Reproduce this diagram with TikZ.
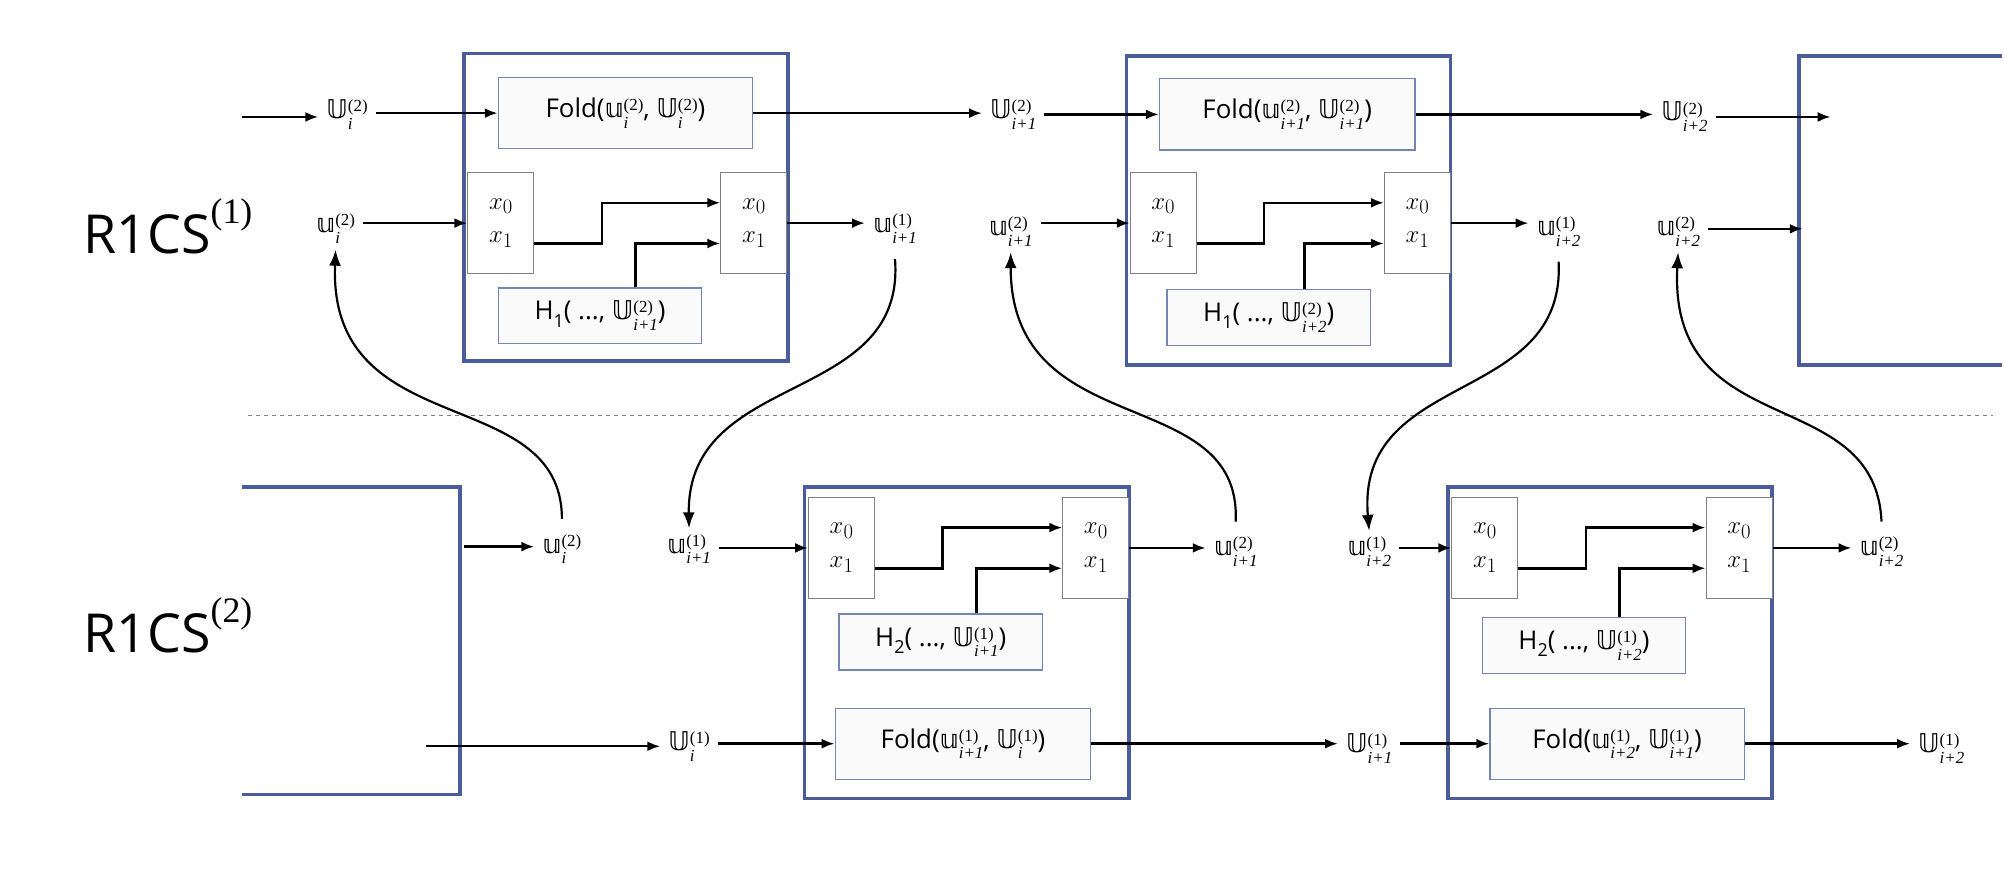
\documentclass[tikz,border=0pt]{standalone}
\usepackage{amsmath}
\usepackage{fontspec}
\setmainfont{Open Sans}
\newfontfamily\djv{DejaVu Sans}
\newfontfamily\scr{Liberation Serif}
\usetikzlibrary{arrows.meta,calc}
\definecolor{bb}{rgb}{0.29,0.36,0.60}
\definecolor{ib}{rgb}{0.45,0.52,0.70}
\newcommand\sst[2]{\raisebox{-0.42em}{\fontsize{17}{22}\selectfont\scr\shortstack[l]{(#2)\\\textit{#1}}}}
\newcommand\bu[2]{{\djv 𝕦}\sst{#1}{#2}}
\newcommand\bU[2]{{\djv 𝕌}\sst{#1}{#2}}
\newcommand\Hs[1]{H\raisebox{-0.3em}{\fontsize{18}{18}\selectfont #1}}
\newcommand\muxpair[4]{% prefix, lx, rx, cy
  \node[xbox] (#1L) at (#2,#4) {$x_0$\\[4pt]$x_1$};
  \node[xbox] (#1R) at (#3,#4) {$x_0$\\[4pt]$x_1$};
  \draw[arr] ($(#1L.east)+(0,16)$) -- ++(53,0) |- ($(#1R.west)+(0,-16)$);
  \draw[arr] ($(#1H.north)+(28,0)$) |- ($(#1R.west)+(0,16)$);}
\begin{document}
\begin{tikzpicture}[x=1.278pt,y=-1.278pt,
  every node/.style={font=\fontsize{26}{28}\selectfont},
  lab/.style={inner sep=0pt},
  big/.style={draw=bb,line width=3.5pt},
  fbox/.style={draw=ib,line width=1.2pt,fill=gray!4,inner sep=0pt,minimum height=56*1.278pt},
  hbox/.style={draw=ib,line width=1.2pt,fill=gray!4,inner sep=0pt,minimum width=160*1.278pt,minimum height=44*1.278pt},
  xbox/.style={draw=gray,line width=1pt,fill=white,align=center,inner sep=0pt,minimum width=52*1.278pt,minimum height=79*1.278pt,font=\fontsize{28}{30}\selectfont},
  arr/.style={-{Latex[length=13pt,width=10pt]},line width=2.5pt},
  crv/.style={-{Latex[length=16pt,width=12pt]},line width=2.2pt}]
\path[fill=white] (0,0) rectangle (1568,684);
% big boxes
\node[big,minimum width=255*1.278pt,minimum height=242*1.278pt] (T1) at (492.5,163) {};
\node[big,minimum width=255*1.278pt,minimum height=243*1.278pt] (T2) at (1013.5,165.5) {};
\draw[big] (1575,44) -- (1415,44) -- (1415,287) -- (1575,287);
\draw[big] (190,383) -- (362,383) -- (362,625) -- (190,625);
\node[big,minimum width=255*1.278pt,minimum height=245*1.278pt] (B1) at (760.5,505.5) {};
\node[big,minimum width=255*1.278pt,minimum height=245*1.278pt] (B2) at (1266.5,505.5) {};
\draw[gray,line width=1.5pt,dash pattern=on 4pt off 4pt] (195,327) -- (1568,327);
% R1CS labels
\node[lab,font=\fontsize{54}{60}\selectfont] (r1) at (132,178) {R1CS\raisebox{0.55em}{\fontsize{36}{36}\selectfont\scr(1)}};
\node[lab,font=\fontsize{54}{60}\selectfont] (r2) at (132,492) {R1CS\raisebox{0.55em}{\fontsize{36}{36}\selectfont\scr(2)}};
% top row
\node[fbox,minimum width=200*1.278pt] (F1) at (492,89) {Fold(\bu{i}{2}, \bU{i}{2})};
\node[fbox,minimum width=201*1.278pt] (F2) at (1012.5,90) {Fold(\bu{i+1}{2}, \bU{i+1}{2})};
\node[lab] (U1) at (273,90) {\bU{i}{2}};
\node[lab] (U2) at (797,90) {\bU{i+1}{2}};
\node[lab] (U3) at (1325,92) {\bU{i+2}{2}};
\coordinate (s0) at (190,92);
\coordinate (e3) at (1440,92);
\draw[arr] (s0) -- ([xshift=-8pt]U1.west|-s0);
\draw[arr] ([xshift=8pt]U1.east|-F1) -- (F1.west);
\draw[arr] (F1.east) -- ([xshift=-8pt]U2.west|-F1);
\draw[arr] ([xshift=8pt]U2.east|-F2) -- (F2.west);
\draw[arr] (F2.east) -- ([xshift=-8pt]U3.west|-F2);
\draw[arr] ([xshift=8pt]U3.east|-e3) -- (e3);
% top second row
\node[hbox] (aH) at (472,248.5) {\Hs{1}( ..., \bU{i+1}{2})};
\node[hbox] (bH) at (998,249.5) {\Hs{1}( ..., \bU{i+2}{2})};
\muxpair{a}{394}{593}{175.5}
\muxpair{b}{915}{1115}{175.5}
\node[lab] (u1) at (264,180) {\bu{i}{2}};
\node[lab] (u2) at (704,180) {\bu{i+1}{1}};
\node[lab] (u3) at (795,182) {\bu{i+1}{2}};
\node[lab] (u4) at (1226,182) {\bu{i+2}{1}};
\node[lab] (u5) at (1320,182) {\bu{i+2}{2}};
\coordinate (e4) at (1418,180);
\draw[arr] ([xshift=8pt]u1.east|-aL) -- (aL.west);
\draw[arr] (aR.east) -- ([xshift=-8pt]u2.west|-aR);
\draw[arr] ([xshift=8pt]u3.east|-bL) -- (bL.west);
\draw[arr] (bR.east) -- ([xshift=-8pt]u4.west|-bR);
\draw[arr] ([xshift=8pt]u5.east|-e4) -- (e4);
% bottom first row
\node[hbox] (cH) at (740,505) {\Hs{2}( ..., \bU{i+1}{1})};
\node[hbox] (dH) at (1246,507.5) {\Hs{2}( ..., \bU{i+2}{1})};
\muxpair{c}{662}{862}{431}
\muxpair{d}{1168}{1368}{431}
\coordinate (s5) at (365,430);
\node[lab] (v1) at (442,432) {\bu{i}{2}};
\node[lab] (v2) at (542,432) {\bu{i+1}{1}};
\node[lab] (v3) at (972,434) {\bu{i+1}{2}};
\node[lab] (v4) at (1077,434) {\bu{i+2}{1}};
\node[lab] (v5) at (1480,434) {\bu{i+2}{2}};
\draw[arr] (s5) -- ([xshift=-8pt]v1.west|-s5);
\draw[arr] ([xshift=8pt]v2.east|-cL) -- (cL.west);
\draw[arr] (cR.east) -- ([xshift=-8pt]v3.west|-cR);
\draw[arr] ([xshift=8pt]v4.east|-dL) -- (dL.west);
\draw[arr] (dR.east) -- ([xshift=-8pt]v5.west|-dR);
% bottom fold row
\node[fbox,minimum width=201*1.278pt] (F3) at (757.5,585) {Fold(\bu{i+1}{1}, \bU{i}{1})};
\node[fbox,minimum width=200*1.278pt] (F4) at (1272,585) {Fold(\bu{i+2}{1}, \bU{i+1}{1})};
\coordinate (s6) at (335,587);
\node[lab] (W1) at (542,587) {\bU{i}{1}};
\node[lab] (W2) at (1077,589) {\bU{i+1}{1}};
\node[lab] (W3) at (1527,589) {\bU{i+2}{1}};
\draw[arr] (s6) -- ([xshift=-8pt]W1.west|-s6);
\draw[arr] ([xshift=8pt]W1.east|-F3) -- (F3.west);
\draw[arr] (F3.east) -- ([xshift=-8pt]W2.west|-F3);
\draw[arr] ([xshift=8pt]W2.east|-F4) -- (F4.west);
\draw[arr] (F4.east) -- ([xshift=-8pt]W3.west|-F4);
% cross curves
\draw[crv] (v1.north) ++(0,-12) .. controls (442,300) and (258,350) .. ([yshift=-6pt]u1.south);
\draw[crv] (u2.south) ++(0,12) .. controls (713,320) and (540,290) .. ([yshift=6pt]v2.north);
\draw[crv] (v3.north) ++(0,-12) .. controls (977,300) and (795,350) .. ([yshift=-6pt]u3.south);
\draw[crv] (u4.south) ++(0,12) .. controls (1232,320) and (1066,290) .. ([yshift=6pt]v4.north);
\draw[crv] (v5.north) ++(0,-12) .. controls (1475,300) and (1312,350) .. ([yshift=-6pt]u5.south);
\end{tikzpicture}
\end{document}
